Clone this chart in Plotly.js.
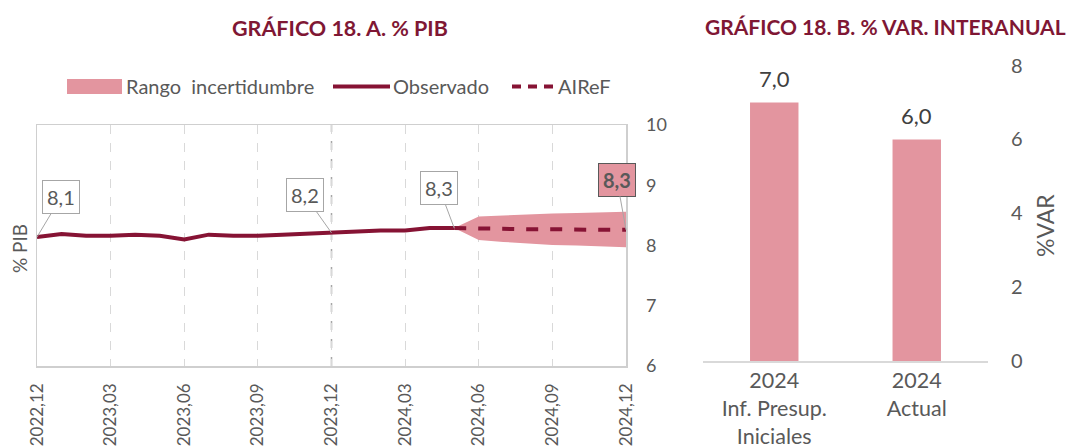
<!DOCTYPE html>
<html>
<head>
<meta charset="utf-8">
<script src="https://cdn.plot.ly/plotly-3.0.1.min.js"></script>
<style>html,body{margin:0;padding:0;background:#fff;}#chart{width:1073px;height:448px;}</style>
</head>
<body>
<div id="chart"></div>
<script>
// ---- Data ----
const months = ["2022,12","2023,01","2023,02","2023,03","2023,04","2023,05","2023,06","2023,07","2023,08","2023,09","2023,10","2023,11","2023,12",
                "2024,01","2024,02","2024,03","2024,04","2024,05","2024,06","2024,07","2024,08","2024,09","2024,10","2024,11","2024,12"];
const observado = [8.14,8.19,8.16,8.16,8.18,8.16,8.10,8.18,8.16,8.16,8.18,8.20,8.21,8.23,8.25,8.25,8.29,8.29,
                   null,null,null,null,null,null,null];
const airef = [null,null,null,null,null,null,null,null,null,null,null,null,null,null,null,null,null,8.29,
               8.28,8.28,8.27,8.27,8.26,8.26,8.26];
const rangoSup = [null,null,null,null,null,null,null,null,null,null,null,null,null,null,null,null,null,8.29,
                  8.48,8.50,8.52,8.53,8.54,8.55,8.56];
const rangoInf = [null,null,null,null,null,null,null,null,null,null,null,null,null,null,null,null,null,8.29,
                  8.09,8.06,8.03,8.01,8.00,7.98,7.97];
const quarterTicks = ["2022,12","2023,03","2023,06","2023,09","2023,12","2024,03","2024,06","2024,09","2024,12"];
const legendNames = ["Rango  incertidumbre", "Observado", "AIReF"];

const barCats = ["2024<br>Inf. Presup.<br>Iniciales","2024<br>Actual"];
const barVals = [7.0, 6.0];

// ---- Styles ----
const maroon = "#861334";
const pink = "#E3959F";
const grey = "#595959";
const FONT = "Lato, 'Open Sans', sans-serif";
const fmt = v => v.toFixed(1).replace(".", ",");
const W = 1073, H = 448;
const px = x => x / W, py = y => 1 - y / H;

const traces = [
  {x: months, y: rangoInf, type: "scatter", mode: "lines", line: {width: 0, color: pink},
   showlegend: false, hoverinfo: "skip", xaxis: "x", yaxis: "y"},
  {x: months, y: rangoSup, type: "scatter", mode: "lines", line: {width: 0, color: pink},
   fill: "tonexty", fillcolor: pink, name: legendNames[0], showlegend: false, xaxis: "x", yaxis: "y"},
  {x: months, y: observado, type: "scatter", mode: "lines", line: {width: 4, color: maroon},
   name: legendNames[1], showlegend: false, xaxis: "x", yaxis: "y"},
  {x: months, y: airef, type: "scatter", mode: "lines", line: {width: 4, color: maroon, dash: "dash"},
   name: legendNames[2], showlegend: false, xaxis: "x", yaxis: "y"},
  {x: barCats, y: barVals, type: "bar", marker: {color: pink}, showlegend: false,
   xaxis: "x2", yaxis: "y2"}
];

const lastObs = 17, lastIdx = months.length - 1;
function callout(idx, val, ax, ay, extra) {
  return Object.assign({
    xref: "x", yref: "y", x: months[idx], y: val, text: fmt(val),
    showarrow: true, arrowhead: 0, arrowwidth: 1, arrowcolor: "#a6a6a6",
    ax: ax, ay: ay, bgcolor: "#ffffff", bordercolor: "#a6a6a6", borderwidth: 1, borderpad: 4,
    font: {size: 20, color: grey, family: FONT}
  }, extra || {});
}

const annotations = [
  {xref: "paper", yref: "paper", x: px(340), y: py(28), xanchor: "center", yanchor: "middle",
   text: "<b>GRÁFICO 18. A. % PIB</b>", showarrow: false, font: {size: 21.5, color: "#7f1734", family: FONT}},
  {xref: "paper", yref: "paper", x: px(885), y: py(27), xanchor: "center", yanchor: "middle",
   text: "<b>GRÁFICO 18. B. % VAR. INTERANUAL</b>", showarrow: false, font: {size: 21, color: "#7f1734", family: FONT}},
  {xref: "paper", yref: "paper", x: px(19), y: py(249), xanchor: "center", yanchor: "middle",
   text: "% PIB", textangle: -90, showarrow: false, font: {size: 19, color: grey, family: FONT}},
  {xref: "paper", yref: "paper", x: px(1045), y: py(226), xanchor: "center", yanchor: "middle",
   text: "%VAR", textangle: -90, showarrow: false, font: {size: 23, color: grey, family: FONT}},
  // legend labels
  {xref: "paper", yref: "paper", x: px(124), y: py(86), xanchor: "left", yanchor: "middle",
   text: legendNames[0], showarrow: false, font: {size: 20, color: grey, family: FONT}},
  {xref: "paper", yref: "paper", x: px(391), y: py(86), xanchor: "left", yanchor: "middle",
   text: legendNames[1], showarrow: false, font: {size: 20, color: grey, family: FONT}},
  {xref: "paper", yref: "paper", x: px(556), y: py(86), xanchor: "left", yanchor: "middle",
   text: legendNames[2], showarrow: false, font: {size: 20, color: grey, family: FONT}},
  callout(0, observado[0], 24, -40),
  callout(12, observado[12], -27, -38),
  callout(lastObs, observado[lastObs], -15, -40),
  callout(lastIdx, airef[lastIdx], -9, -50, {bgcolor: pink, bordercolor: grey, text: "<b>" + fmt(airef[lastIdx]) + "</b>"})
];
barVals.forEach((v, i) => annotations.push({
  xref: "x2", yref: "y2", x: barCats[i], y: v, text: fmt(v), showarrow: false,
  xanchor: "center", yanchor: "bottom", yshift: 8, font: {size: 22, color: "#404040", family: FONT}
}));

const layout = {
  width: W, height: H,
  margin: {l: 0, r: 0, t: 0, b: 0},
  paper_bgcolor: "#fff", plot_bgcolor: "#fff",
  font: {family: FONT, color: grey},
  showlegend: false,
  xaxis: {domain: [px(37), px(626)], type: "category", range: [0, months.length - 1],
          tickmode: "array", tickvals: quarterTicks, ticktext: quarterTicks, tickangle: -90,
          tickfont: {size: 17, color: grey, family: FONT},
          showgrid: true, gridcolor: "#d9d9d9", griddash: "dash", gridwidth: 1.2,
          showline: true, mirror: true, linecolor: "#cfcfcf", linewidth: 1.5,
          ticks: "", ticklabelstandoff: 9, zeroline: false, anchor: "y"},
  yaxis: {domain: [py(366), py(125)], range: [6, 10], dtick: 1, side: "right",
          showgrid: false, zeroline: false, showline: true, mirror: true, linecolor: "#cfcfcf", linewidth: 1.5,
          tickfont: {size: 18, color: grey, family: FONT}, ticks: "", ticklabelstandoff: 15, anchor: "x"},
  xaxis2: {domain: [px(703), px(988)], anchor: "y2", showline: true, linecolor: "#d9d9d9", linewidth: 1.5,
           ticks: "", tickfont: {size: 21.5, color: grey, family: FONT}, showgrid: false, zeroline: false},
  yaxis2: {domain: [py(361), py(65.5)], range: [0, 8], dtick: 2, side: "right", anchor: "x2",
           showgrid: false, zeroline: false, showline: false, ticks: "", ticklabelstandoff: 22,
           tickfont: {size: 20, color: grey, family: FONT}},
  bargap: 0.66,
  shapes: [
    {type: "line", xref: "x", yref: "y domain", x0: "2023,12", x1: "2023,12", y0: 0, y1: 1,
     line: {color: "#a6a6a6", width: 1.5, dash: "dash"}, layer: "below"},
    // legend symbols
    {type: "rect", xref: "paper", yref: "paper", x0: px(67), x1: px(122), y0: py(94), y1: py(79),
     fillcolor: pink, line: {width: 0}},
    {type: "line", xref: "paper", yref: "paper", x0: px(333), x1: px(390), y0: py(86.5), y1: py(86.5),
     line: {color: maroon, width: 4}},
    {type: "line", xref: "paper", yref: "paper", x0: px(512), x1: px(553), y0: py(86.5), y1: py(86.5),
     line: {color: maroon, width: 4, dash: "9px,7px"}}
  ],
  annotations: annotations
};

Plotly.newPlot("chart", traces, layout, {displayModeBar: false, staticPlot: true});
</script>
</body>
</html>
